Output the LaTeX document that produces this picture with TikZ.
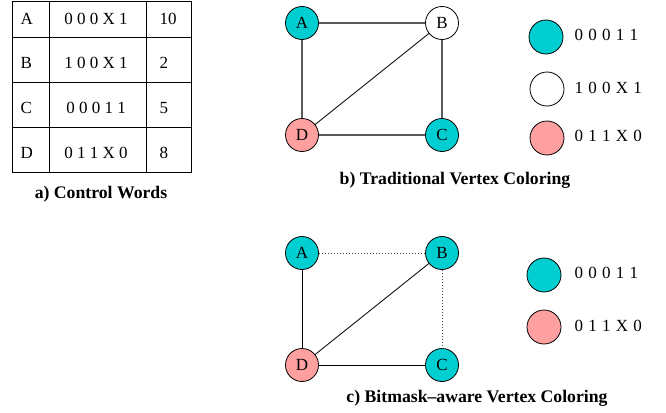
\documentclass[tikz,border=0pt]{standalone}
\usepackage{fontspec}
\setmainfont{Liberation Serif}
\usetikzlibrary{positioning}
\definecolor{turq}{RGB}{0,206,209}
\definecolor{salmon}{RGB}{255,160,160}
\newcommand\keyfont{\fontsize{17}{20}\selectfont\spaceskip 0.31em\relax}

\begin{document}
\begin{tikzpicture}[
    x=1pt, y=-1pt,
    every node/.style={font=\fontsize{17}{20}\selectfont},
    vtx/.style={circle, draw=black, line width=0.8pt, minimum size=33pt, inner sep=0pt},
    cyanvtx/.style={vtx, fill=turq},
    pinkvtx/.style={vtx, fill=salmon},
    whitevtx/.style={vtx, fill=white},
    keyvtx/.style={vtx, minimum size=34pt},
    keytext/.style={anchor=west, font=\keyfont},
    caption/.style={font=\fontsize{17.7}{20}\selectfont\bfseries},
    edge/.style={draw=black!65, line width=1.3pt},
    diag/.style={draw=black, line width=0.8pt},
    skip/.style={draw=black!75, line width=1pt, dotted}
]
    \useasboundingbox (0,0) rectangle (666,412);

    % a) table of control words
    \draw[line width=0.9pt] (12,1) rectangle (191,172);
    \foreach \y in {37,82,127}
        \draw[line width=0.9pt] (12,\y) -- (191,\y);
    \foreach \x in {49,146}
        \draw[line width=0.9pt] (\x,1) -- (\x,172);

    \node[anchor=west] (na) at (17,19) {A};
    \node[anchor=west] (nb) at (17,63) {B};
    \node[anchor=west] (nc) at (17,108) {C};
    \node[anchor=west] (nd) at (17,153) {D};
    \node (wa) at (96,19) {0 0 0 X 1};
    \node (wb) at (96,63) {1 0 0 X 1};
    \node (wc) at (96,108) {0 0 0 1 1};
    \node (wd) at (96,153) {0 1 1 X 0};
    \node[anchor=west] (ca) at (156,19) {10};
    \node[anchor=west] (cb) at (156,63) {2};
    \node[anchor=west] (cc) at (156,108) {5};
    \node[anchor=west] (cd) at (156,153) {8};
    \node[caption] (capa) at (101,194) {a) Control Words};

    % b) traditional coloring
    \node[cyanvtx]  (A) at (302,23) {A};
    \node[whitevtx] (B) at (442,23) {B};
    \node[pinkvtx]  (D) at (302,135) {D};
    \node[cyanvtx]  (C) at (442,135) {C};
    \draw[edge] (A) -- (B);
    \draw[edge] (A) -- (D);
    \draw[edge] (B) -- (C);
    \draw[edge] (D) -- (C);
    \draw[diag] (D) -- (B);

    \node[keyvtx, fill=turq]   (k1) at (546,37) {};
    \node[keyvtx, fill=white]  (k2) at (547,89) {};
    \node[keyvtx, fill=salmon] (k3) at (547,138) {};
    \node[keytext] (t1) at (571,35) {0 0 0 1 1};
    \node[keytext] (t2) at (571,88) {1 0 0 X 1};
    \node[keytext] (t3) at (571,136) {0 1 1 X 0};
    \node[caption] (capb) at (455,180) {b) Traditional Vertex Coloring};

    % c) bitmask-aware coloring
    \node[cyanvtx] (A2) at (302,253) {A};
    \node[cyanvtx] (B2) at (442,253) {B};
    \node[pinkvtx] (D2) at (302,365) {D};
    \node[cyanvtx] (C2) at (442,365) {C};
    \draw[skip] (A2) -- (B2);
    \draw[skip] (B2) -- (C2);
    \draw[diag] (A2) -- (D2);
    \draw[diag] (D2) -- (C2);
    \draw[diag] (D2) -- (B2);

    \node[keyvtx, fill=turq]   (k4) at (544,275) {};
    \node[keyvtx, fill=salmon] (k5) at (544,327) {};
    \node[keytext] (t4) at (571,273) {0 0 0 1 1};
    \node[keytext] (t5) at (571,326) {0 1 1 X 0};
    \node[caption] (capc) at (477,398) {c) Bitmask--aware Vertex Coloring};
\end{tikzpicture}
\end{document}
